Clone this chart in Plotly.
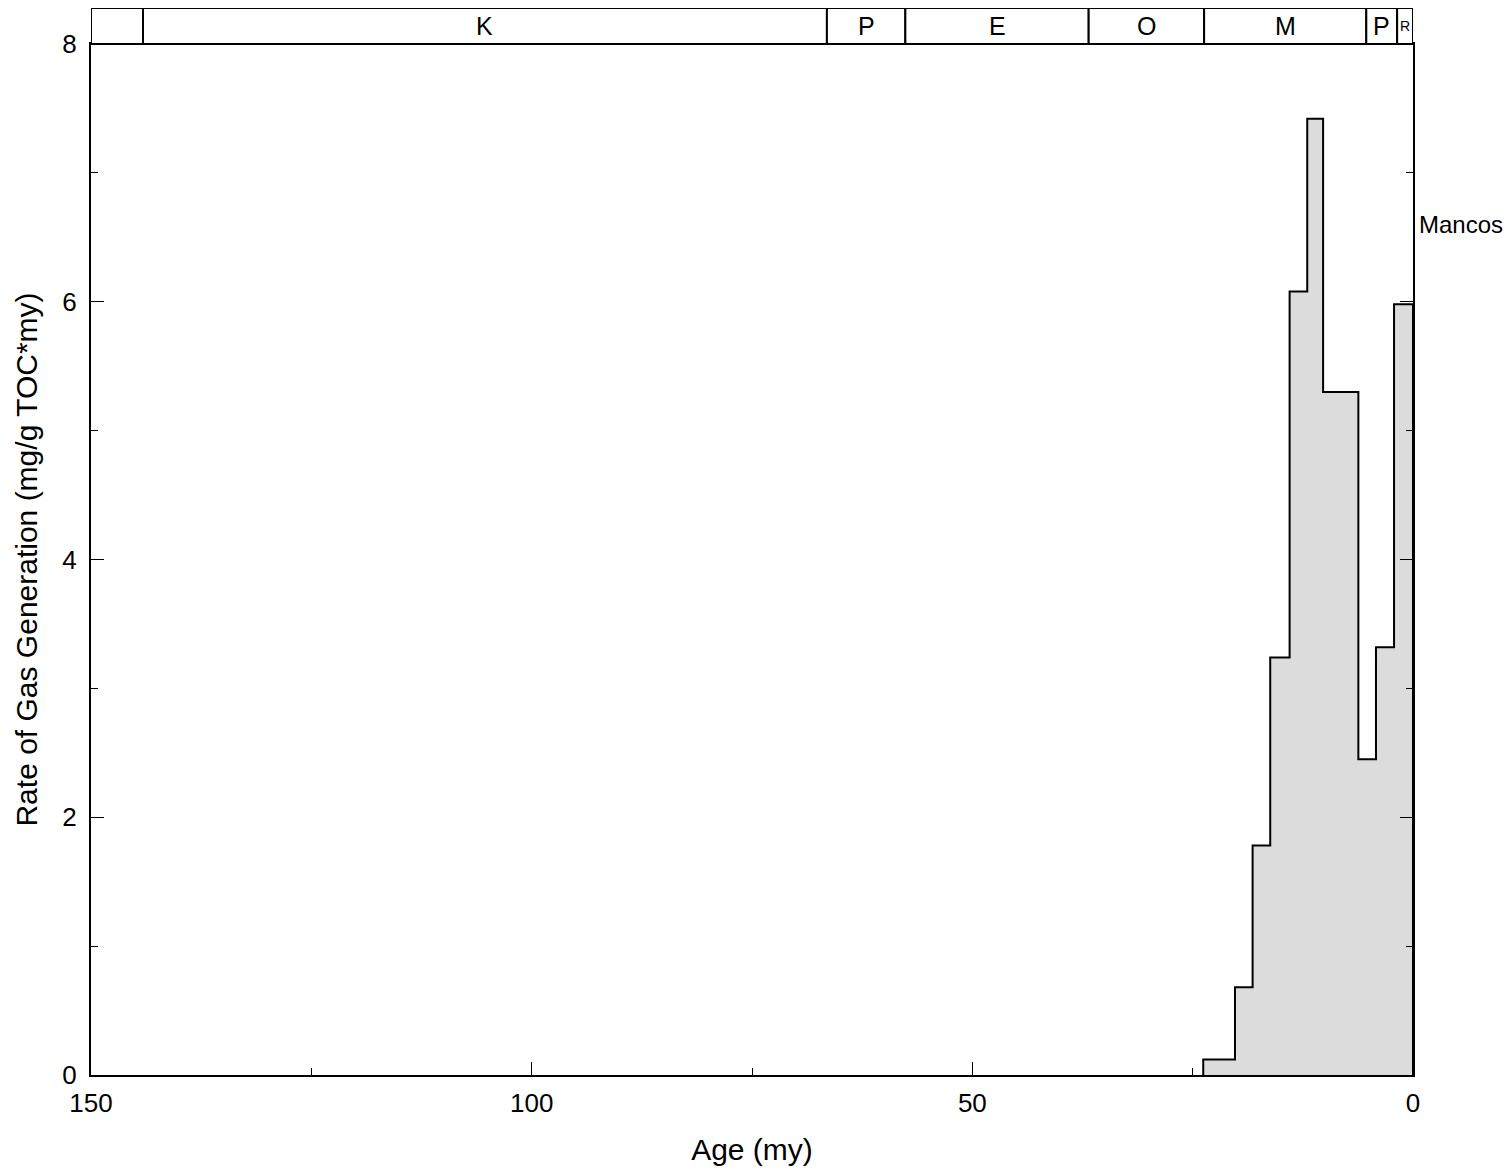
import plotly.graph_objects as go

# Bin edges (age, my) and gas generation rates (mg/g TOC*my)
bin_edges = [23.8, 20.2, 18.2, 16.2, 14.0, 12.0, 10.2, 6.2, 4.2, 2.15, 0.0]
gas_rate = [0.12, 0.68, 1.78, 3.24, 6.08, 7.42, 5.30, 2.45, 3.32, 5.98]

# Geologic period bar
period_bounds = [150.0, 144.1, 66.5, 57.6, 36.8, 23.7, 5.3, 1.8, 0.0]
period_labels = ["", "K", "P", "E", "O", "M", "P", "R"]
period_label_sizes = [25, 25, 25, 25, 25, 25, 25, 14]

x_tick_vals = [150, 100, 50, 0]
y_tick_vals = [0, 2, 4, 6, 8]

FONT = "Liberation Sans, Arial, Helvetica, sans-serif"

xs = list(bin_edges) + [bin_edges[-1]]
ys = [0] + list(gas_rate) + [0]

fig = go.Figure()
fig.add_trace(go.Scatter(
    x=xs, y=ys, mode="lines", line=dict(color="black", width=2, shape="vh"),
    fill="tozeroy", fillcolor="#dcdcdc", hoverinfo="skip", showlegend=False,
))

ML, MR, MT, MB = 83, 106, 36, 107
plot_h = 1174 - MT - MB
bar_h = 36 / plot_h
shapes = []
annotations = []
for i in range(len(period_labels)):
    a0, a1 = period_bounds[i], period_bounds[i + 1]
    shapes.append(dict(type="rect", xref="x", yref="paper", x0=a0, x1=a1,
                       y0=1, y1=1 + bar_h, line=dict(color="black", width=2),
                       fillcolor="white", layer="above"))
    if period_labels[i]:
        annotations.append(dict(xref="x", yref="paper", x=(a0 + a1) / 2,
                                y=1 + bar_h / 2, text=period_labels[i],
                                showarrow=False, xanchor="center", yanchor="middle",
                                font=dict(size=period_label_sizes[i], color="black", family=FONT)))

annotations.append(dict(xref="paper", yref="y", x=1.003, y=6.6, text="Mancos",
                        showarrow=False, xanchor="left", yanchor="middle",
                        font=dict(size=24, color="black", family=FONT)))

fig.update_layout(
    width=1511, height=1174,
    margin=dict(l=ML, r=MR, t=MT, b=MB, autoexpand=False),
    paper_bgcolor="white", plot_bgcolor="white",
    font=dict(family=FONT, color="black", size=26),
    shapes=shapes, annotations=annotations,
    xaxis=dict(
        range=[150, 0], tickvals=x_tick_vals, ticks="inside", ticklen=13,
        tickwidth=1, tickcolor="black", showline=True, linecolor="black",
        linewidth=2, mirror=True, showgrid=False, zeroline=False,
        minor=dict(dtick=25, tick0=0, ticks="inside", ticklen=7, tickcolor="black", tickwidth=1),
        title=dict(text="Age (my)", font=dict(size=30), standoff=22),
        tickfont=dict(size=26), ticklabelstandoff=4,
    ),
    yaxis=dict(
        range=[0, 8], tickvals=y_tick_vals, ticks="inside", ticklen=13,
        tickwidth=1, tickcolor="black", showline=True, linecolor="black",
        linewidth=2, mirror="ticks", showgrid=False, zeroline=False,
        minor=dict(dtick=1, tick0=0, ticks="inside", ticklen=7, tickcolor="black", tickwidth=1),
        title=dict(text="Rate of Gas Generation (mg/g TOC*my)", font=dict(size=30), standoff=16),
        tickfont=dict(size=26), ticklabelstandoff=7,
    ),
)

fig.write_html("out.html")
